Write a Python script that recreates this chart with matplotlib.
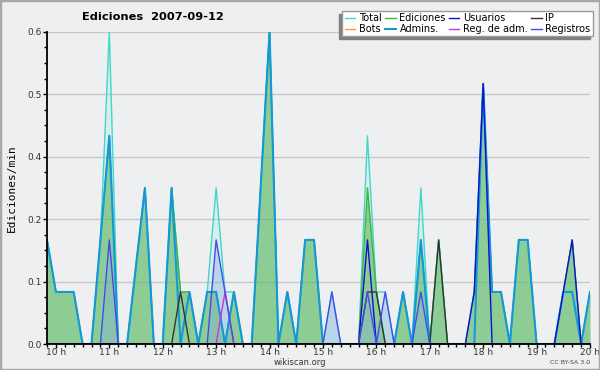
import matplotlib
matplotlib.use("Agg")
import matplotlib.pyplot as plt
from matplotlib.patches import Rectangle
from matplotlib.ticker import MultipleLocator, FormatStrFormatter
import numpy as np

# 10-minute samples, 9:50 -> 20:00
hours = [9 + 50 / 60 + i / 6 for i in range(62)]

total = [0.2, 0.1, 0.1, 0.1, 0, 0, 0.2, 0.6, 0, 0,
         0.15, 0.3, 0, 0, 0.3, 0.1, 0.1, 0, 0.1, 0.3,
         0.1, 0.1, 0, 0, 0.3, 0.6, 0, 0.1, 0, 0.2,
         0.2, 0, 0.1, 0, 0, 0, 0.4, 0.1, 0.1, 0,
         0.1, 0, 0.3, 0, 0.2, 0, 0, 0, 0.1, 0.5,
         0.1, 0.1, 0, 0.2, 0.2, 0, 0, 0, 0.1, 0.2,
         0, 0.1]
ediciones = [0.2, 0.1, 0.1, 0.1, 0, 0, 0.2, 0.4, 0, 0,
             0.15, 0.3, 0, 0, 0.3, 0.1, 0.1, 0, 0.1, 0.1,
             0, 0.1, 0, 0, 0.3, 0.6, 0, 0.1, 0, 0.2,
             0.2, 0, 0, 0, 0, 0, 0.3, 0.1, 0, 0,
             0.1, 0, 0.2, 0, 0.2, 0, 0, 0, 0.1, 0.5,
             0.1, 0.1, 0, 0.2, 0.2, 0, 0, 0, 0.1, 0.2,
             0, 0.1]
admins = [0.2, 0.1, 0.1, 0.1, 0, 0, 0.2, 0.4, 0, 0,
          0.15, 0.3, 0, 0, 0.3, 0, 0.1, 0, 0.1, 0.1,
          0, 0.1, 0, 0, 0.3, 0.6, 0, 0.1, 0, 0.2,
          0.2, 0, 0, 0, 0, 0, 0, 0, 0, 0,
          0.1, 0, 0.2, 0, 0, 0, 0, 0, 0, 0.5,
          0.1, 0.1, 0, 0.2, 0.2, 0, 0, 0, 0.1, 0.1,
          0, 0.1]
usuarios = [0] * 36 + [0.2] + [0] * 11 + [0.1, 0.5] + [0] * 8 + [0.1, 0.2, 0, 0]
registros = [0, 0, 0, 0, 0, 0, 0, 0.2, 0, 0,
             0, 0, 0, 0, 0, 0, 0, 0, 0, 0.2,
             0.1, 0, 0, 0, 0, 0, 0, 0, 0, 0,
             0, 0, 0.1, 0, 0, 0, 0.1, 0, 0.1, 0,
             0, 0, 0.1, 0, 0, 0, 0, 0, 0, 0,
             0, 0, 0, 0, 0, 0, 0, 0, 0, 0,
             0, 0]
ip = [0] * 15 + [0.1] + [0] * 20 + [0.1, 0.1] + [0] * 6 + [0.2] + [0] * 17
reg_adm = [0] * 20 + [0.1] + [0] * 41
bots = [0] * 62

bg = "#eeeff1"
fig = plt.figure(figsize=(6, 3.7), dpi=100, facecolor=bg)
ax = fig.add_axes([47 / 600, 26 / 370, 543 / 600, 312.3 / 370])
ax.set_facecolor(bg)

# fills
ax.fill_between(hours, total, color="#40e0d0", alpha=0.12, lw=0, zorder=1)
ax.fill_between(hours, ediciones, color="#5cb85c", alpha=0.6, lw=0, zorder=2)
ax.fill_between(hours, registros, color="#7fb0d8", alpha=0.35, lw=0, zorder=3)

# lines
ax.plot(hours, total, color="#40d8c8", lw=1.0, zorder=4, label="Total")
ax.plot(hours, bots, color="#ff9933", lw=1.0, zorder=3, label="Bots")
ax.plot(hours, ediciones, color="#3cb83c", lw=1.0, zorder=4, label="Ediciones")
ax.plot(hours, admins, color="#1598d8", lw=1.5, zorder=5, label="Admins.")
ax.plot(hours, usuarios, color="#1010d0", lw=1.0, zorder=6, label="Usuarios")
ax.plot(hours, reg_adm, color="#cc33dd", lw=1.0, zorder=6, label="Reg. de adm.")
ax.plot(hours, ip, color="#333333", lw=1.0, zorder=6, label="IP")
ax.plot(hours, registros, color="#4848f0", lw=1.0, zorder=6, label="Registros")

ax.set_xlim(hours[0], 20)
ax.set_ylim(0, 0.6)

ax.xaxis.set_minor_locator(MultipleLocator(1 / 6))
ax.set_xticks(range(10, 21))
ax.set_xticklabels([f"{h} h" for h in range(10, 21)])
ax.yaxis.set_major_locator(MultipleLocator(0.12))
ax.yaxis.set_minor_locator(MultipleLocator(0.03))
ax.yaxis.set_major_formatter(FormatStrFormatter("%.1f"))

ax.tick_params(which="major", direction="out", length=3, width=1,
               labelsize=6.5, labelcolor="#333333", pad=1)
ax.tick_params(axis="x", which="major", pad=0)
ax.tick_params(which="minor", direction="out", length=2, width=1)
ax.grid(axis="y", which="major", color="#c8c8c8", lw=1, zorder=0)
ax.set_axisbelow(True)

for s in ["top", "right"]:
    ax.spines[s].set_visible(False)
for s in ["left", "bottom"]:
    ax.spines[s].set_linewidth(1.3)
    ax.spines[s].set_zorder(10)

ax.set_ylabel("Ediciones/min", family="DejaVu Sans Mono", fontsize=8, labelpad=7)

fig.text(153 / 600, 1 - 17 / 370, "Ediciones  2007-09-12", ha="center", va="center",
         fontsize=8.2, fontweight="bold")

handles, labels = ax.get_legend_handles_labels()
leg = ax.legend(handles, labels, ncol=4, loc="upper right",
                bbox_to_anchor=(593 / 600, 1 - 11 / 370), bbox_transform=fig.transFigure,
                fontsize=7, frameon=True, fancybox=False, framealpha=1,
                edgecolor="#999999", handlelength=1.1, handletextpad=0.4,
                columnspacing=0.3, labelspacing=0.05, borderpad=0.25,
                borderaxespad=0,
                shadow={"ox": -2.0, "oy": -2.0, "facecolor": "#808080",
                        "edgecolor": "#808080", "alpha": 1})
leg.set_zorder(20)

fig.text(0.5, 1 - 362.5 / 370, "wikiscan.org", ha="center", va="center",
         fontsize=6, color="#333333")
fig.text(590 / 600, 1 - 362.5 / 370, "CC BY-SA 3.0", ha="right", va="center",
         fontsize=4.5, color="#444444")

fig.patches.append(Rectangle((0, 0), 1, 1, transform=fig.transFigure, fill=False,
                             ec="#a8a8a8", lw=2.5))

fig.savefig("out.png", dpi=100, facecolor=bg)
